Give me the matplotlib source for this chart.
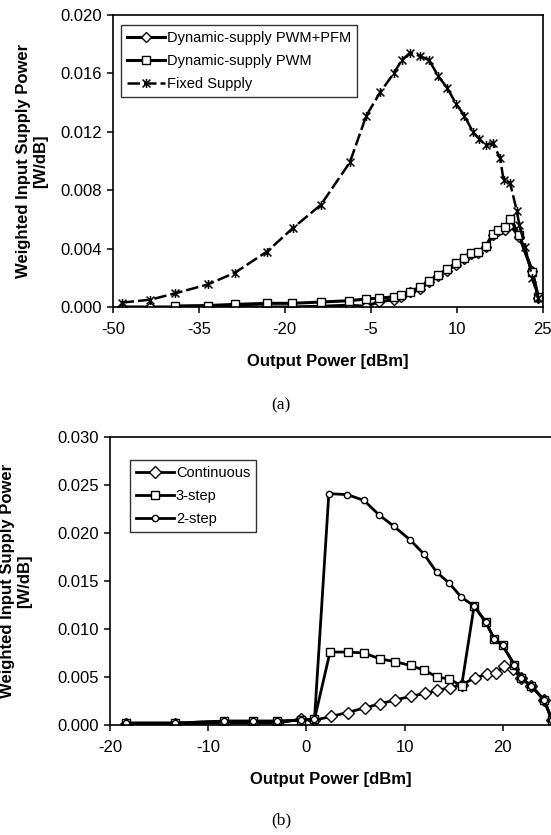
import matplotlib
matplotlib.use('Agg')
import matplotlib.pyplot as plt
from matplotlib.path import Path

plt.rcParams['font.family'] = ['Liberation Sans', 'DejaVu Sans']
plt.rcParams['axes.unicode_minus'] = False

# ---------------- data: chart (a) ----------------
fixed_x = [-48.5, -43.5, -39.1, -33.4, -28.7, -23.1, -18.6, -13.7, -8.65, -5.77, -3.35, -0.98,
           0.41, 1.85, 3.58, 5.20, 6.82, 8.37, 9.93, 11.37, 12.83, 13.97, 15.13, 16.34, 17.6,
           18.2, 19.34, 20.5, 20.97, 22.0, 23.2, 24.26]
fixed_y = [0.0003, 0.0005, 0.00094, 0.00155, 0.00235, 0.0038, 0.0054, 0.0070, 0.0099, 0.0131,
           0.0147, 0.0160, 0.0169, 0.0174, 0.0172, 0.0169, 0.0158, 0.0150, 0.0139, 0.0131,
           0.0120, 0.0115, 0.0111, 0.0112, 0.0102, 0.0087, 0.0085, 0.0066, 0.0056, 0.0041,
           0.0020, 0.0006]

pfm_x = [-48.5, -43.5, -39.1, -33.4, -28.7, -23.1, -18.8, -13.7, -8.8, -5.77, -3.6, -0.98,
         0.29, 1.85, 3.58, 5.2, 6.82, 8.37, 9.93, 11.37, 12.5, 13.75, 15.13, 16.34, 17.3,
         18.37, 19.34, 20.97, 23.2, 24.26]
pfm_y = [0.0, 0.0, 0.0, 0.00003, 0.00005, 0.0, 0.0, 0.00005, 0.00012, 0.00005, 0.00035,
         0.0005, 0.0007, 0.0010, 0.0012, 0.0017, 0.0021, 0.0025, 0.0029, 0.0033, 0.0036,
         0.0037, 0.0041, 0.0049, 0.0052, 0.0053, 0.0056, 0.0048, 0.0025, 0.0006]

pwm_x = [-39.1, -33.4, -28.7, -23.1, -18.8, -13.7, -8.8, -5.77, -3.6, -0.98, 0.29, 1.85,
         3.58, 5.2, 6.82, 8.37, 9.93, 11.37, 12.5, 13.75, 15.13, 16.34, 17.3, 18.37, 19.34,
         20.97, 23.2, 24.26]
pwm_y = [0.00007, 0.0001, 0.00018, 0.00025, 0.00025, 0.00034, 0.00043, 0.00055, 0.0006,
         0.0007, 0.0008, 0.00105, 0.00135, 0.00178, 0.0022, 0.0026, 0.0030, 0.00338, 0.0037,
         0.00378, 0.0042, 0.0050, 0.0053, 0.00545, 0.00605, 0.0049, 0.0024, 0.0007]

a_xticks = [-50, -35, -20, -5, 10, 25]
a_yticks = [0.000, 0.004, 0.008, 0.012, 0.016, 0.020]
a_labels = ['Dynamic-supply PWM+PFM', 'Dynamic-supply PWM', 'Fixed Supply']

# ---------------- data: chart (b) ----------------
two_x = [-18.4, -13.4, -8.4, -5.4, -3.0, -0.54, 0.82, 2.28, 4.15, 5.85, 7.38, 8.9, 10.54,
         11.97, 13.27, 14.52, 15.78, 17.07, 18.27, 19.1, 19.97, 21.15, 21.84, 22.86, 24.2, 25.0]
two_y = [0.0002, 0.0002, 0.0004, 0.0004, 0.0004, 0.0005, 0.0006, 0.0241, 0.0240, 0.0234,
         0.0219, 0.0207, 0.0193, 0.0178, 0.0159, 0.0148, 0.0133, 0.0124, 0.0107, 0.0090,
         0.0083, 0.0063, 0.0049, 0.0041, 0.0026, 0.0005]

three_x = [-18.4, -13.4, -8.4, -5.4, -3.0, -0.54, 0.82, 2.4, 4.2, 5.85, 7.45, 9.0, 10.6,
           12.0, 13.3, 14.5, 15.8, 17.07, 18.27, 19.1, 19.97, 21.15, 21.84, 22.86, 24.2, 25.0]
three_y = [0.0002, 0.0002, 0.0004, 0.0004, 0.0004, 0.0005, 0.0006, 0.0076, 0.0076, 0.0075,
           0.0069, 0.0066, 0.0062, 0.0057, 0.0050, 0.0048, 0.0041, 0.0124, 0.0107, 0.0090,
           0.0083, 0.0063, 0.0049, 0.0041, 0.0026, 0.0005]

cont_x = [-18.4, -13.4, -8.4, -5.4, -3.0, -0.54, 0.82, 2.52, 4.2, 5.96, 7.48, 9.0, 10.68,
          12.07, 13.34, 14.6, 15.8, 17.14, 18.37, 19.3, 20.07, 21.0, 21.84, 22.86, 24.2, 25.0]
cont_y = [0.0001, 0.0001, 0.0002, 0.0002, 0.0002, 0.0006, 0.0005, 0.0009, 0.0013, 0.0018,
          0.0022, 0.0026, 0.0030, 0.0033, 0.0036, 0.0039, 0.0042, 0.0049, 0.0053, 0.0054,
          0.0061, 0.0058, 0.0049, 0.0041, 0.0026, 0.0005]

b_xticks = [-20, -10, 0, 10, 20]
b_yticks = [0.000, 0.005, 0.010, 0.015, 0.020, 0.025, 0.030]
b_labels = ['Continuous', '3-step', '2-step']

ylabel_text = 'Weighted Input Supply Power\n[W/dB]'
xlabel_text = 'Output Power [dBm]'

# star marker: X with vertical bar (Excel style)
star = Path([(-1, -1), (1, 1), (-1, 1), (1, -1), (0, -1.15), (0, 1.15)],
            [Path.MOVETO, Path.LINETO, Path.MOVETO, Path.LINETO, Path.MOVETO, Path.LINETO])

W, H = 551, 835
fig = plt.figure(figsize=(W / 100, H / 100), dpi=100)
ax1 = fig.add_axes([113 / W, 1 - 307 / H, 429.5 / W, 292 / H])
ax2 = fig.add_axes([110 / W, 1 - 725 / H, 442 / W, 288 / H])

common = dict(color='black', markerfacecolor='white', markeredgecolor='black',
              markeredgewidth=1.0)

# chart (a)
ax1.plot(pfm_x, pfm_y, marker='D', markersize=5.5, linewidth=2.2, label=a_labels[0], **common)
ax1.plot(pwm_x, pwm_y, marker='s', markersize=6, linewidth=2.2, label=a_labels[1], **common)
ax1.plot(fixed_x, fixed_y, marker=star, markersize=6.5, linewidth=1.8,
         linestyle=(0, (5, 1.6)), color='black', markeredgecolor='black',
         markerfacecolor='none', markeredgewidth=1.1, label=a_labels[2])
ax1.set_xlim(-50, 25)
ax1.set_ylim(0, 0.020)
ax1.set_xticks(a_xticks)
ax1.set_xticklabels([str(v) for v in a_xticks])
ax1.set_yticks(a_yticks)
ax1.set_yticklabels(['%.3f' % v for v in a_yticks])

# chart (b)
ax2.plot(cont_x, cont_y, marker='D', markersize=6.5, linewidth=2.0, label=b_labels[0], **common)
ax2.plot(three_x, three_y, marker='s', markersize=6, linewidth=2.0, label=b_labels[1], **common)
ax2.plot(two_x, two_y, marker='o', markersize=4.5, linewidth=2.0, label=b_labels[2], **common)
ax2.set_xlim(-20, 25)
ax2.set_ylim(0, 0.030)
ax2.set_xticks(b_xticks)
ax2.set_xticklabels([str(v) for v in b_xticks])
ax2.set_yticks(b_yticks)
ax2.set_yticklabels(['%.3f' % v for v in b_yticks])

for ax in (ax1, ax2):
    for sp in ax.spines.values():
        sp.set_linewidth(1.2)
        sp.set_color('black')
    ax.tick_params(axis='x', direction='out', length=4, width=1.1, labelsize=12, pad=7,
                   colors='black')
    ax.tick_params(axis='y', direction='out', length=4, width=1.1, labelsize=12, pad=4,
                   colors='black')
    ax.set_xlabel(xlabel_text, fontsize=12, fontweight='bold', labelpad=12)

leg_kw = dict(loc='upper left', borderaxespad=0, fontsize=10.5, frameon=True,
              fancybox=False, edgecolor='black', handlelength=2.6, handletextpad=0.15,
              borderpad=0.4, labelspacing=0.62, numpoints=1)
leg1 = ax1.legend(bbox_to_anchor=(0.019, 0.966), **leg_kw)
leg1.get_frame().set_linewidth(1.0)
leg2 = ax2.legend(bbox_to_anchor=(0.045, 0.92), **leg_kw)
leg2.get_frame().set_linewidth(1.0)

fig.text(32 / W, 1 - 161 / H, ylabel_text, rotation=90, ha='center', va='center',
         multialignment='center', fontsize=12, fontweight='bold')
fig.text(16 / W, 1 - 581 / H, ylabel_text, rotation=90, ha='center', va='center',
         multialignment='center', fontsize=12, fontweight='bold')

fig.text(0.51, 1 - 405 / H, '(a)', ha='center', va='center', fontsize=12.5,
         family=['Liberation Serif', 'DejaVu Serif'])
fig.text(0.51, 1 - 820 / H, '(b)', ha='center', va='center', fontsize=12.5,
         family=['Liberation Serif', 'DejaVu Serif'])

fig.savefig('out.png', dpi=100)
